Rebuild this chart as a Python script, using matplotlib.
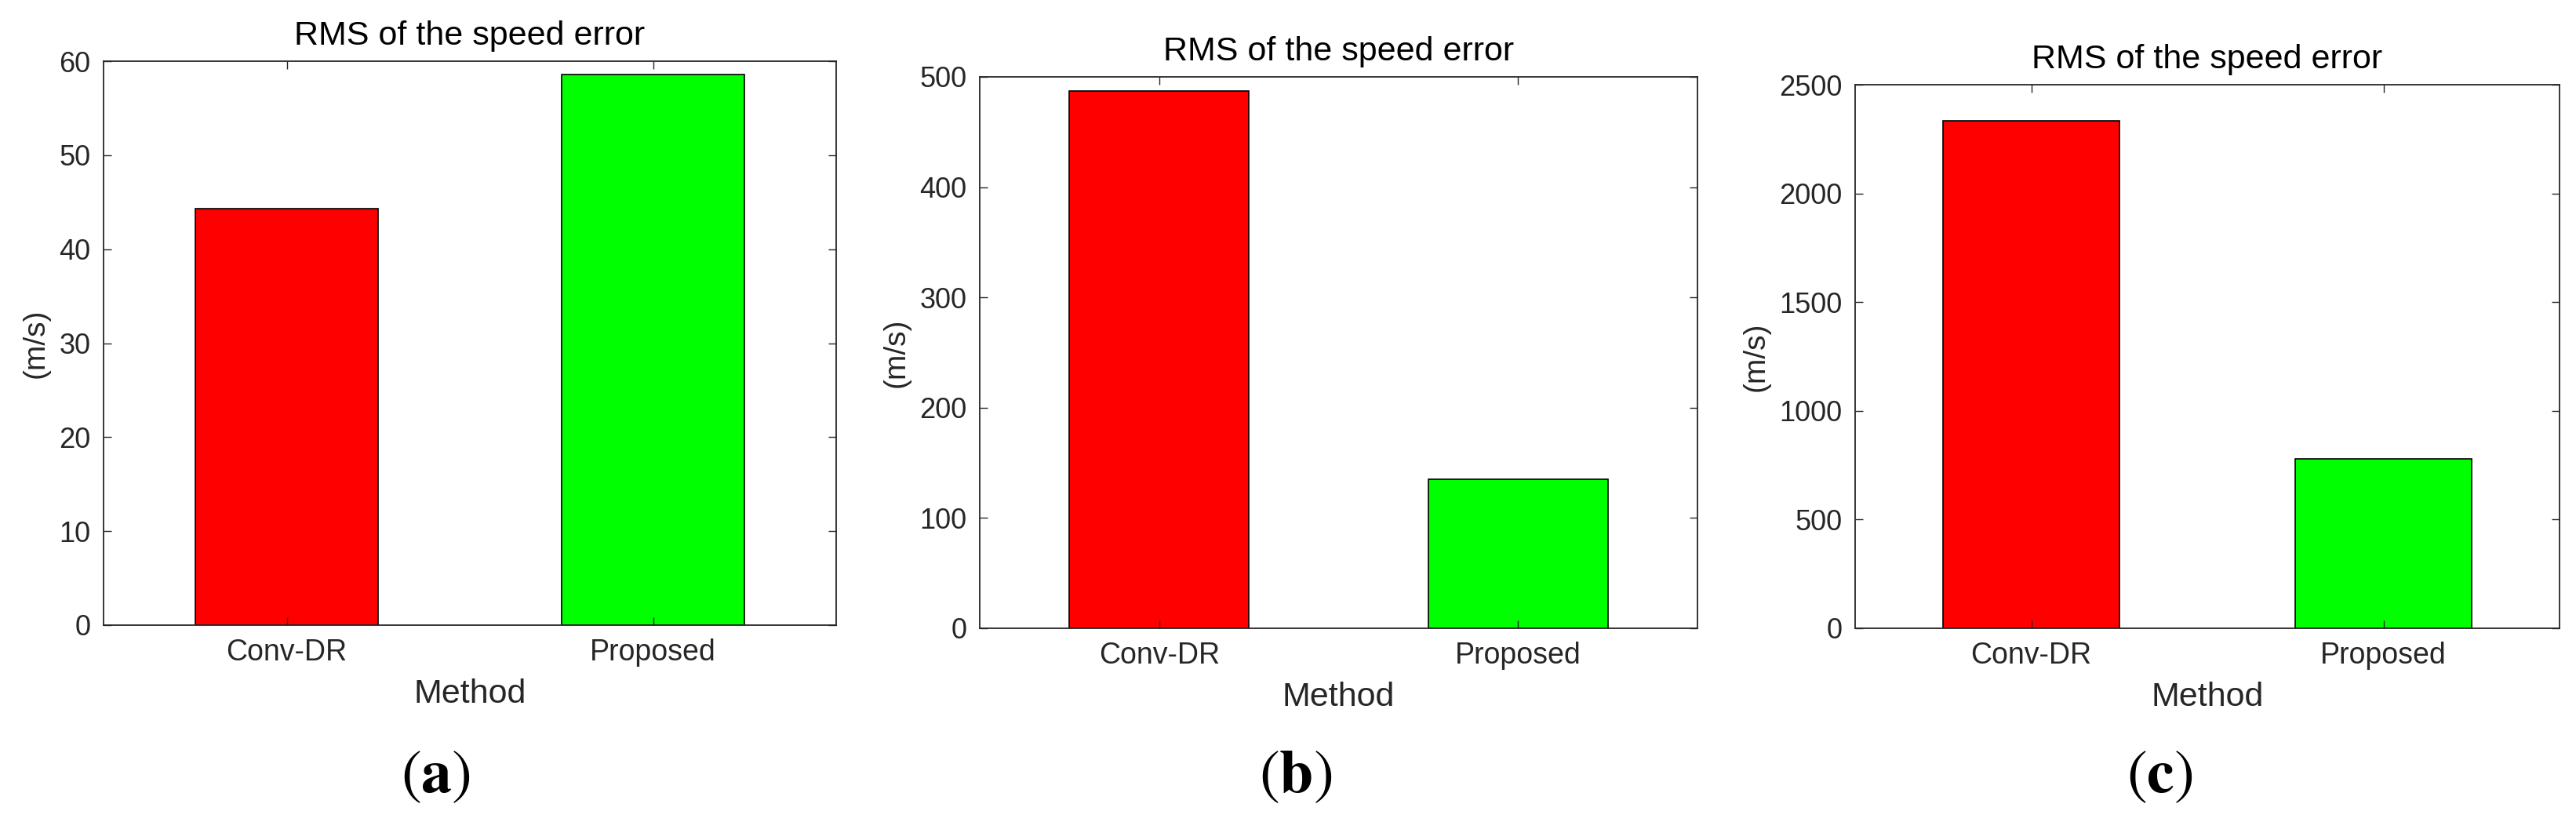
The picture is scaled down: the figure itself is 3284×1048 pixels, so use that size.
import matplotlib
matplotlib.use('Agg')
import matplotlib.pyplot as plt

methods = ['Conv-DR', 'Proposed']
bar_colors = ['#ff0000', '#00ff00']
rms_a = [44.3, 58.6]
rms_b = [487, 135]
rms_c = [2335, 780]
ylims = [60, 500, 2500]
ysteps = [10, 100, 500]
panel_tags = ['a', 'b', 'c']

plt.rcParams['font.family'] = ['Liberation Sans', 'DejaVu Sans']
plt.rcParams['mathtext.fontset'] = 'stix'

W, H = 3284, 1048
fig = plt.figure(figsize=(W / 100, H / 100), dpi=100)

# axes boxes in pixels: left, top, right, bottom
boxes = [(132, 78, 1066, 797), (1249, 98, 2164, 801), (2365, 108, 3263, 801)]
tag_x = [555, 1652, 2753]

for i, vals in enumerate([rms_a, rms_b, rms_c]):
    l, t, r, b = boxes[i]
    ax = fig.add_axes([l / W, 1 - b / H, (r - l) / W, (b - t) / H])
    ax.bar([1, 2], vals, width=0.5, color=bar_colors, edgecolor='black', linewidth=1.2)
    ax.set_xlim(0.5, 2.5)
    ax.set_ylim(0, ylims[i])
    ax.set_xticks([1, 2])
    ax.set_xticklabels(methods)
    ax.set_yticks(range(0, ylims[i] + 1, ysteps[i]))
    ax.tick_params(direction='in', length=7, width=1, top=True, right=True,
                   colors='#262626', labelsize=26, pad=12)
    ax.tick_params(axis='x', labelsize=27)
    for sp in ax.spines.values():
        sp.set_color('#262626')
        sp.set_linewidth(1.3)
    ax.set_title('RMS of the speed error', fontsize=31, pad=15)
    ax.set_xlabel('Method', fontsize=31, color='#262626', labelpad=11)
    ax.set_ylabel('(m/s)', fontsize=28, color='#262626', labelpad=8)
    fig.text(tag_x[i] / W, 1 - 990 / H, r'$(\mathbf{%s})$' % panel_tags[i],
             fontsize=56, ha='center', va='center')

fig.savefig('out.png', dpi=100, facecolor='white')
